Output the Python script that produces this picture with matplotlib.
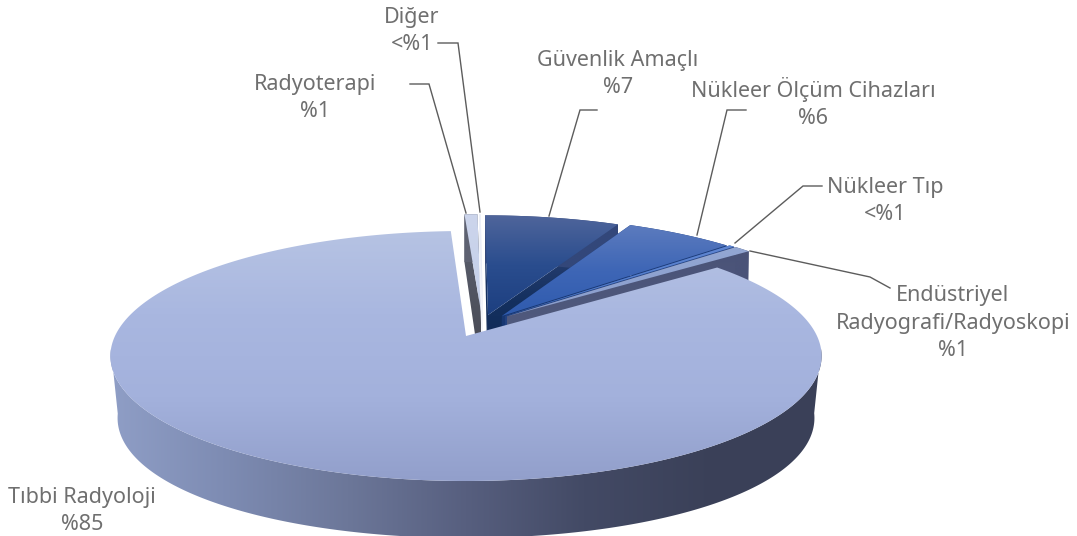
import numpy as np
import matplotlib
matplotlib.use("Agg")
import matplotlib.pyplot as plt
from matplotlib.colors import LinearSegmentedColormap
from matplotlib.patches import Polygon

plt.rcParams['font.family'] = ['Noto Sans', 'DejaVu Sans']

# ---- data (clockwise from 12 o'clock) ----
categories = ["Güvenlik Amaçlı", "Nükleer Ölçüm Cihazları", "Nükleer Tıp",
              "Endüstriyel\nRadyografi/Radyoskopi", "Tıbbi Radyoloji", "Radyoterapi", "Diğer"]
values = [7.3, 5.9, 0.3, 0.9, 84.8, 0.7, 0.1]
value_labels = ["%7", "%6", "<%1", "%1", "%85", "%1", "<%1"]

# ---- layout / style ----
X0, Y0, RX, RY, P = 466.0, 336.0, 351.0, 121.8, 0.16              # top plane
X1, Y1, RX1, RY1, P1, PX1 = 466.0, 400.0, 345.0, 127.0, 0.08, 0.14  # bottom plane
W, H = 1077, 536
offsets = [(0.0645, 0.177), (0.105, 0.169), (0.115, 0.169), (0.12, 0.165),
           (0.0, 0.0), (0.045, 0.19), (0.05, 0.19)]
face_cols = [["#4f659b", "#2a4d8e", "#1d3f80"],
             ["#5c7bbe", "#3e66b6", "#2f5bae"],
             ["#5f86d2", "#4a76c8"],
             ["#93a7d3", "#8a9dcc"],
             ["#b6c3e3", "#a9b7e0", "#a3b1dc", "#929fcb"],
             ["#ccd5ec", "#c3cee8"],
             ["#eef1f9", "#e6eaf6"]]
wall_cols = [["#33477a", "#14305f", "#0f2650"],
             ["#1c3c7a", "#15336b"],
             ["#2a4a8a", "#1c3c7a"],
             ["#4a5378", "#545e80"],
             ["#8f9ec6", "#7d8bb2", "#6c7799", "#575f7f", "#434a65", "#3b4159", "#3a4058"],
             ["#5e6272", "#44464f"],
             ["#f2f4fa", "#f2f4fa"]]
draw_order = [0, 5, 6, 1, 2, 3, 4]
label_pos = {0: (618, 74), 1: (813, 103), 2: (885, 201), 3: (953, 323), 4: (82, 511), 5: (315, 98), 6: (412, 31)}
leaders = {0: [(549, 216), (580, 110), (597, 110)],
           1: [(697, 235), (727, 110), (746, 110)],
           2: [(735, 243), (803, 186), (822, 186)],
           3: [(750, 251), (870, 277), (890, 288)],
           5: [(466, 213), (429, 84), (410, 84)],
           6: [(480, 212), (458, 43), (438, 43)]}
TXT = "#6f6f6f"
LINE = "#5c5c5c"
BIG = 4


def top(u, v):
    w = 1 + P * v
    return X0 + RX * u / w, Y0 - RY * v / w


def bottom(u, v):
    return X1 + RX1 * u / (1 + PX1 * v), Y1 - RY1 * v / (1 + P1 * v)


def grad(ax, pts, cols, vertical, z):
    pts = np.asarray(pts)
    x0, y0 = pts.min(axis=0)
    x1, y1 = pts.max(axis=0)
    cmap = LinearSegmentedColormap.from_list("c", cols)
    g = np.linspace(0, 1, 256)
    g = g[:, None] if vertical else g[None, :]
    poly = Polygon(pts, closed=True, fc="none", ec="none", transform=ax.transData)
    ax.add_patch(poly)
    poly.set_zorder(z)
    im = ax.imshow(g, cmap=cmap, extent=(x0, x1, y1, y0), aspect="auto",
                   interpolation="bilinear", zorder=z, origin="upper")
    im.set_clip_path(poly)


fig = plt.figure(figsize=(W / 100, H / 100), dpi=100)
ax = fig.add_axes([0, 0, 1, 1])
ax.axis("off")

edges = np.concatenate([[0], np.cumsum(values)]) / np.sum(values) * 2 * np.pi
z = 2.0
for i in draw_order:
    a0, a1 = edges[i], edges[i + 1]
    t = np.linspace(a0, a1, max(8, int((a1 - a0) * 90)))
    u0, v0 = offsets[i]
    au, av = u0 + np.sin(t), v0 + np.cos(t)
    tx, ty = top(au, av)
    ax_t, ay_t = top(u0, v0)
    ax_b, ay_b = bottom(u0, v0)
    if i != BIG:
        bx, by = bottom(au, av)
        for xt, yt, xb, yb in ((tx[0], ty[0], bx[0], by[0]), (tx[-1], ty[-1], bx[-1], by[-1])):
            grad(ax, [(ax_t, ay_t), (xt, yt), (xb, yb), (ax_b, ay_b)], wall_cols[i], True, z)
            z += 0.1
        wx, wy, vx, vy = tx, ty, bx, by
        rim = [wall_cols[i][0], wall_cols[i][0]]
    else:
        # only the front of the rim is visible
        front = av <= -0.1
        wx, wy = top(au[front], av[front])
        vx, vy = bottom(au[front], av[front])
        rim = wall_cols[i]
    grad(ax, list(zip(wx, wy)) + list(zip(vx[::-1], vy[::-1])), rim, False, z)
    z += 0.1
    grad(ax, [(ax_t, ay_t)] + list(zip(tx, ty)), face_cols[i], True, z)
    z += 0.1

for i, pts in leaders.items():
    xs, ys = zip(*pts)
    ax.plot(xs, ys, color=LINE, lw=1.0, zorder=50, solid_joinstyle="miter")

for i, (x, y) in label_pos.items():
    ax.text(x, y, categories[i] + "\n" + value_labels[i], ha="center", va="center",
            fontsize=15.5, color=TXT, linespacing=1.4, zorder=60)

ax.set_xlim(0, W)
ax.set_ylim(H, 0)
fig.savefig("out.png", dpi=100, facecolor="white")
